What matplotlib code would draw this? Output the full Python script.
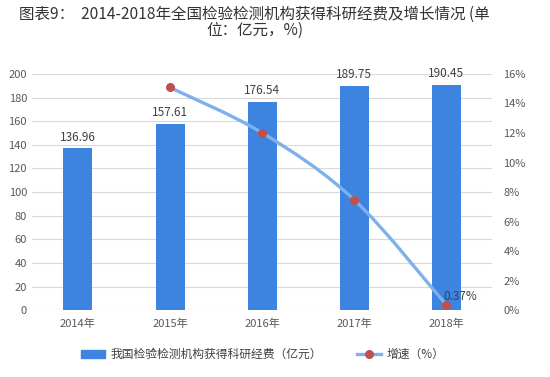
import matplotlib
matplotlib.use("Agg")
import matplotlib.pyplot as plt
from matplotlib.path import Path
from matplotlib.patches import PathPatch, Patch
from matplotlib.lines import Line2D
import numpy as np

plt.rcParams['font.family'] = ['Noto Sans CJK SC', 'DejaVu Sans']

years = ['2014年', '2015年', '2016年', '2017年', '2018年']
funding = [136.96, 157.61, 176.54, 189.75, 190.45]
growth = [None, 15.08, 12.01, 7.48, 0.37]
left_ticks = list(range(0, 201, 20))
right_ticks = list(range(0, 17, 2))

fig = plt.figure(figsize=(5.5, 3.77), dpi=100)
ax = fig.add_axes([0.058, 0.177, 0.837, 0.627])
x = np.arange(len(years))
bar_color = '#3C84E0'
ax.bar(x, funding, width=0.315, color=bar_color, zorder=2)
for xi, v in zip(x, funding):
    ax.text(xi, v + 4, f'{v:.2f}', ha='center', va='bottom', fontsize=8.5, color='#404040')
ax.set_ylim(0, 200)
ax.set_yticks(left_ticks)
ax.set_xlim(-0.5, 4.5)
ax.set_xticks(x)
ax.set_xticklabels(years)
ax.tick_params(axis='both', length=0, labelsize=8, colors='#595959')
ax.tick_params(axis='x', pad=6)
ax.grid(axis='y', color='#D9D9D9', linewidth=0.8, zorder=0)
for s in ax.spines.values():
    s.set_visible(False)

ax2 = ax.twinx()
ax2.set_ylim(0, 16)
ax2.set_yticks(right_ticks)
ax2.set_yticklabels([f'{t}%' for t in right_ticks])
ax2.tick_params(axis='y', length=0, labelsize=8, colors='#595959', pad=8)
for s in ax2.spines.values():
    s.set_visible(False)

gx = [xi for xi, g in zip(x, growth) if g is not None]
gy = [g for g in growth if g is not None]
# smooth curve through points (Catmull-Rom -> cubic Bezier)
pts = np.column_stack([gx, gy]).astype(float)
verts = [tuple(pts[0])]
codes = [Path.MOVETO]
n = len(pts)
for i in range(n - 1):
    p0 = pts[i - 1] if i > 0 else pts[i]
    p1 = pts[i]
    p2 = pts[i + 1]
    p3 = pts[i + 2] if i + 2 < n else pts[i + 1]
    c1 = p1 + (p2 - p0) / 6
    c2 = p2 - (p3 - p1) / 6
    verts += [tuple(c1), tuple(c2), tuple(p2)]
    codes += [Path.CURVE4] * 3
line_color = '#7EB0EE'
ax2.add_patch(PathPatch(Path(verts, codes), facecolor='none', edgecolor=line_color, lw=2.4, zorder=3))
ax2.plot(gx, gy, linestyle='none', marker='o', markersize=5.5, color='#C0504D', zorder=4)
ax2.text(gx[-1] - 0.03, gy[-1] + 0.15, f'{gy[-1]:.2f}%', fontsize=8.5, color='#404040', va='bottom', ha='left')

handles = [Patch(color=bar_color),
           Line2D([0], [0], color=line_color, lw=2.4, marker='o', markerfacecolor='#C0504D',
                  markeredgecolor='#C0504D', markersize=5.5)]
labels = ['我国检验检测机构获得科研经费（亿元）', '增速（%）']
fig.legend(handles, labels, loc='center', bbox_to_anchor=(0.478, 0.06), ncol=2, frameon=False,
           fontsize=8.5, handlelength=2.0, handletextpad=0.5, columnspacing=3.0, labelcolor='#404040')

fig.text(0.463, 0.985, '图表9：  2014-2018年全国检验检测机构获得科研经费及增长情况 (单\n位：亿元，%)',
         ha='center', va='top', fontsize=11.2, color='#333333', linespacing=0.9)

fig.savefig('out.png', dpi=100)
